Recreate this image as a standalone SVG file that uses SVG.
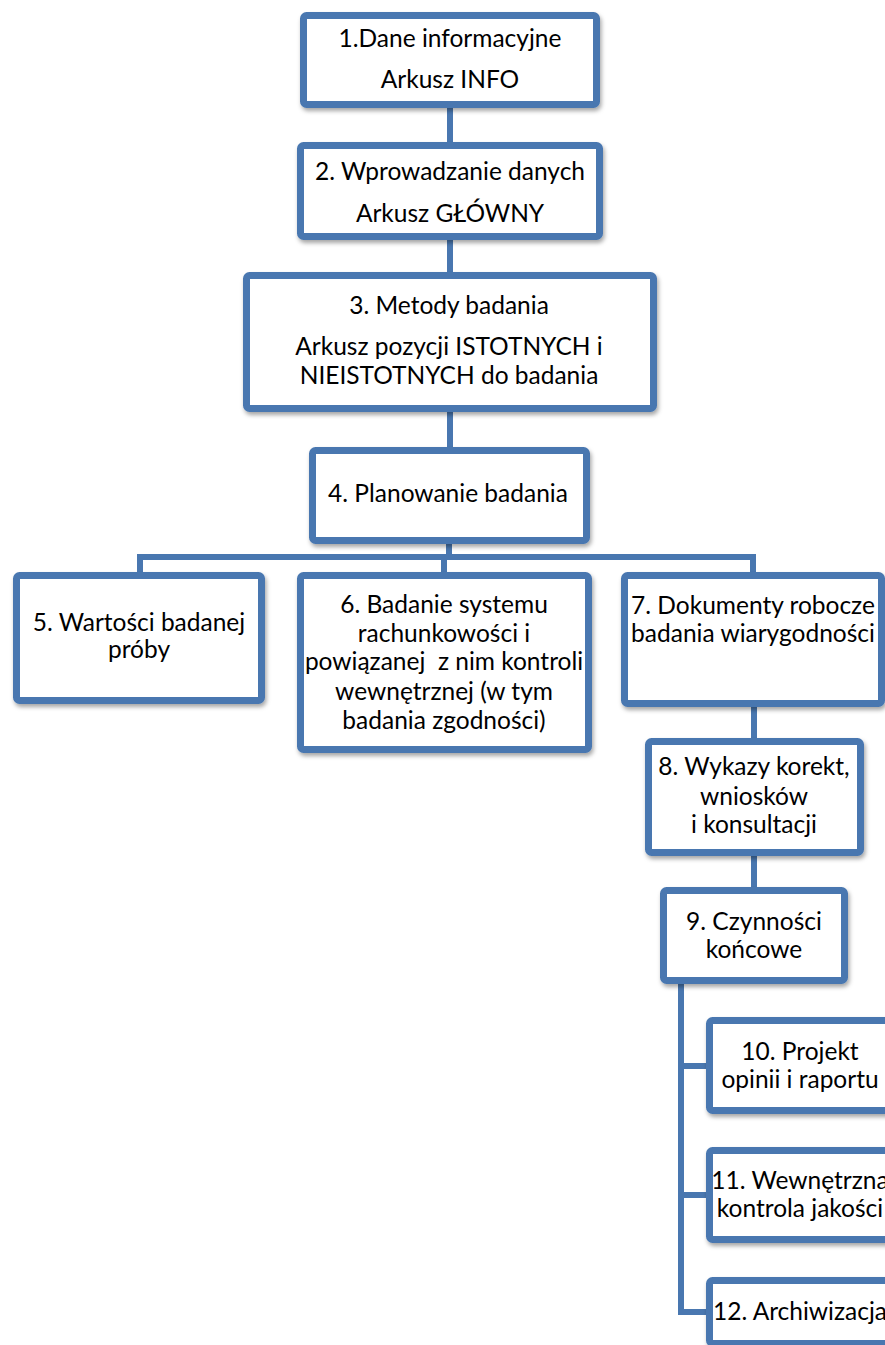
<svg xmlns="http://www.w3.org/2000/svg" width="885" height="1345" viewBox="0 0 885 1345">
<defs>
<filter id="sh" x="-10%" y="-10%" width="130%" height="130%">
<feDropShadow dx="1.5" dy="3" stdDeviation="2" flood-color="#000" flood-opacity="0.35"/>
</filter>
<style>
.box{fill:#ffffff;stroke:#4977b0;stroke-width:7;filter:url(#sh)}
.con{fill:none;stroke:#4977b0;stroke-width:6}
text{font-family:Lato,"Open Sans","Liberation Sans",sans-serif;font-size:24.5px;fill:#000;text-anchor:middle;white-space:pre}
</style>
</defs>
<rect width="885" height="1345" fill="#ffffff"/>
<g id="connectors">
<path class="con" d="M450 108V142"/>
<path class="con" d="M450 240V272"/>
<path class="con" d="M450 412V447"/>
<path class="con" d="M449 544V557"/>
<path class="con" d="M140 572V557H753V572M444 557V573"/>
<path class="con" d="M754 707V738"/>
<path class="con" d="M754 856V887"/>
<path class="con" d="M681 984V1312H706M681 1066H706M681 1195H706"/>
</g>
<g id="node1">
<rect class="box" x="303.5" y="15.5" width="293" height="89" rx="3"/>
<text x="450" y="47">1.Dane informacyjne</text>
<text x="450" y="88">Arkusz INFO</text>
</g>
<g id="node2">
<rect class="box" x="300.5" y="145.5" width="299" height="91" rx="3"/>
<text x="450" y="180">2. Wprowadzanie danych</text>
<text x="450" y="222">Arkusz GŁÓWNY</text>
</g>
<g id="node3">
<rect class="box" x="246.5" y="275.5" width="407" height="133" rx="3"/>
<text x="449" y="314">3. Metody badania</text>
<text x="449" y="355">Arkusz pozycji ISTOTNYCH i</text>
<text x="449" y="384">NIEISTOTNYCH do badania</text>
</g>
<g id="node4">
<rect class="box" x="312.5" y="450.5" width="274" height="90" rx="3"/>
<text x="448" y="502">4. Planowanie badania</text>
</g>
<g id="node5">
<rect class="box" x="16.5" y="575.5" width="245" height="125" rx="3"/>
<text x="139" y="631">5. Wartości badanej</text>
<text x="139" y="658">próby</text>
</g>
<g id="node6">
<rect class="box" x="300.5" y="575.5" width="288" height="174" rx="3"/>
<text x="444" y="612.5">6. Badanie systemu</text>
<text x="444" y="641.5">rachunkowości i</text>
<text x="444" y="670">powiązanej  z nim kontroli</text>
<text x="444" y="699.5">wewnętrznej (w tym</text>
<text x="444" y="728.5">badania zgodności)</text>
</g>
<g id="node7">
<rect class="box" x="624.5" y="575.5" width="257" height="128" rx="3"/>
<text x="753" y="614">7. Dokumenty robocze</text>
<text x="753" y="642">badania wiarygodności</text>
</g>
<g id="node8">
<rect class="box" x="648.5" y="741.5" width="212" height="111" rx="3"/>
<text x="754" y="775">8. Wykazy korekt,</text>
<text x="754" y="805">wniosków</text>
<text x="754" y="833">i konsultacji</text>
</g>
<g id="node9">
<rect class="box" x="663.5" y="890.5" width="181" height="90" rx="3"/>
<text x="754" y="929.5">9. Czynności</text>
<text x="754" y="957.5">końcowe</text>
</g>
<g id="node10">
<rect class="box" x="709.5" y="1020.5" width="181" height="90" rx="3"/>
<text x="800" y="1059.5">10. Projekt</text>
<text x="800" y="1087.5">opinii i raportu</text>
</g>
<g id="node11">
<rect class="box" x="709.5" y="1150.5" width="181" height="89" rx="3"/>
<text x="800" y="1189">11. Wewnętrzna</text>
<text x="800" y="1217">kontrola jakości</text>
</g>
<g id="node12">
<rect class="box" x="709.5" y="1280.5" width="181" height="63" rx="3"/>
<text x="800" y="1320">12. Archiwizacja</text>
</g>
</svg>
